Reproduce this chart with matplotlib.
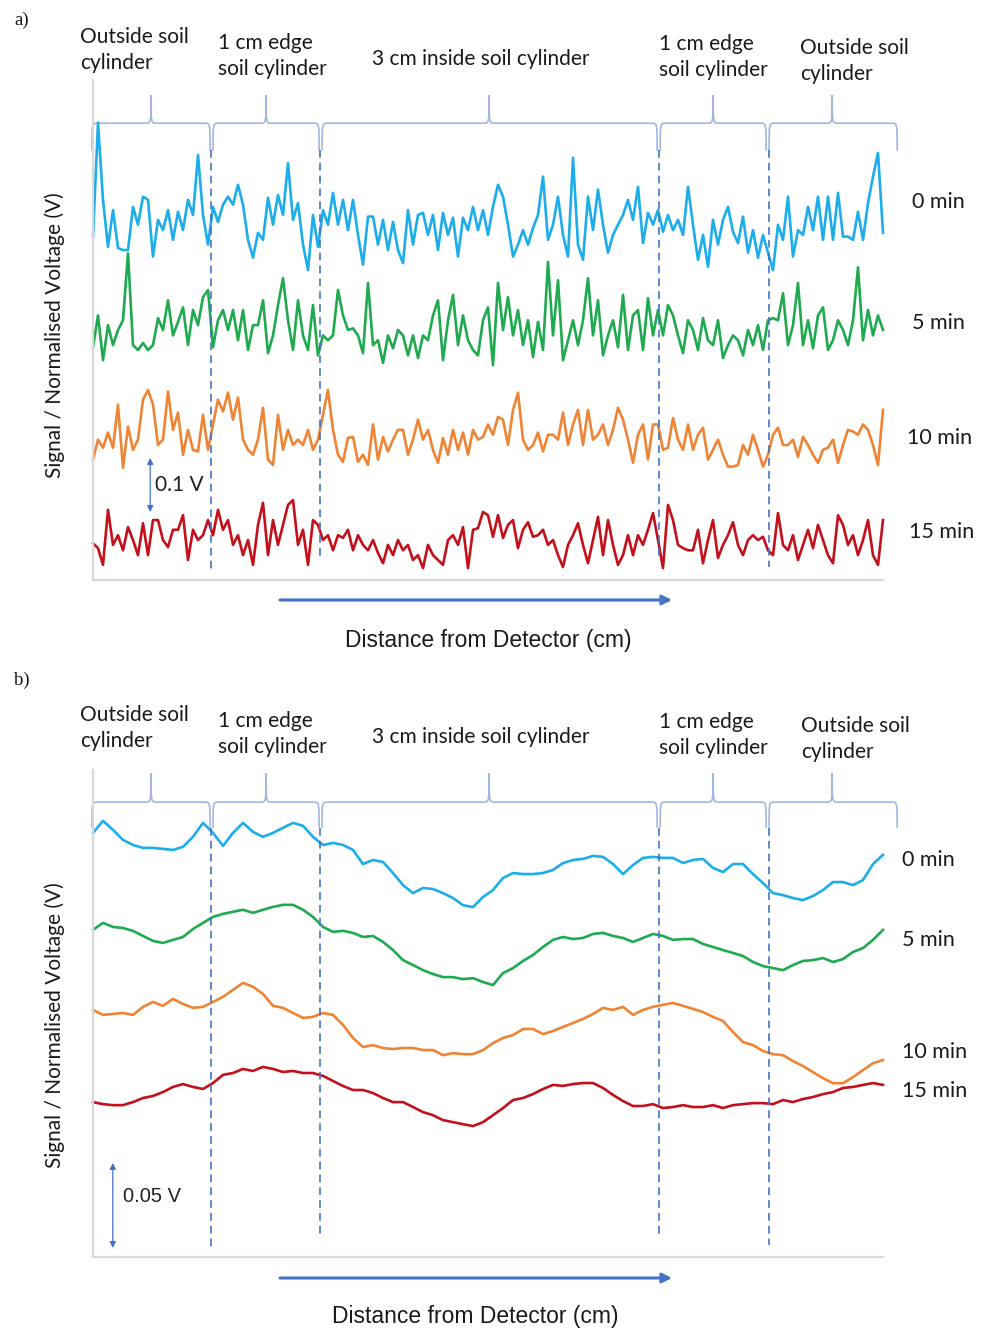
import numpy as np
import matplotlib
matplotlib.use("Agg")
import matplotlib.pyplot as plt
from matplotlib.path import Path
from matplotlib.patches import PathPatch, FancyArrowPatch

# Canvas (pixels)
W, H = 985, 1330

# Data: panel a (mV deviation of each trace, sampled evenly along the scan)
labels = ["0 min", "5 min", "10 min", "15 min"]
trace_colors = ["#1CADEA", "#1FAA4F", "#EE8434", "#C3101A"]
scan_length_cm = 7.18
divider_cm = [1.07, 2.06, 5.14, 6.14]
region_labels = ["Outside soil\ncylinder", "1 cm edge\nsoil cylinder",
                 "3 cm inside soil cylinder", "1 cm edge\nsoil cylinder",
                 "Outside soil\ncylinder"]
region_edges_cm = [(-0.01, 1.064), (1.091, 2.055), (2.082, 5.127),
                   (5.155, 6.118), (6.145, 7.309)]
region_centres_cm = [0.527, 1.573, 3.6, 5.636, 6.718]

a_0min = [-31, 180, 37, -50, 18, -52, -56, -56, 24, -9,
          43, 37, -68, 0, -19, 18, -37, 15, -19, 37,
          9, 120, 9, -46, 24, -4, 28, 43, 28, 65,
          28, -37, -70, -24, -37, 41, -9, 46, 9, 105,
          0, 31, -46, -93, 9, -50, 18, -9, 50, -9,
          37, -19, 37, -28, -83, 6, 6, -46, 0, -56,
          -4, -56, -80, 18, -46, 9, 13, -28, 9, -56,
          13, -28, 4, -68, 4, -19, 24, -19, 18, -28,
          24, 65, 43, -9, -68, -46, -19, -46, -15, 9,
          80, -37, -9, 43, -28, -68, 115, -46, -74, 43,
          -19, 56, -9, -61, -28, -9, 9, 37, 0, 61,
          -43, 13, -9, 18, -22, 9, -19, 0, -28, 61,
          -9, -74, -28, -87, 0, -46, 0, 24, -22, -43,
          6, -61, -19, -70, -28, -61, -93, -9, -37, 43,
          -68, -19, -28, 24, -19, 43, -37, 43, -37, 50,
          -31, -31, -37, 15, -37, 31, 80, 124, -24]
a_5min = [-41, 18, -65, 0, -37, -9, 9, 133, -37, -46,
          -33, -46, -37, 13, -9, 46, -19, 6, 33, -37,
          28, 0, 52, 65, -41, 9, 28, -9, 28, -28,
          28, -46, 0, 0, 46, -52, -19, 37, 87, 9,
          -46, 46, -19, -46, 37, -56, -19, -28, -19, 65,
          18, -9, -6, -19, -52, 78, -37, -28, -70, -19,
          -43, -9, -19, -56, -19, -61, -19, -28, 18, 46,
          -65, 9, 56, -37, 18, -28, -46, -56, 9, 33,
          -74, 78, -9, 52, -19, 28, -37, 9, -59, 6,
          -46, 117, -19, 83, -65, -28, 9, -37, 9, 87,
          -19, 46, -56, -19, 9, -41, 56, -46, 18, 28,
          -46, 50, -19, 28, -19, 37, 18, -19, -52, 9,
          -9, -46, 13, -28, -37, 9, -61, -37, -19, -28,
          -56, -9, -37, 0, -46, 9, 13, 9, 59, -37,
          0, 78, -37, 9, -43, 18, 33, -46, -28, 9,
          -9, -37, 9, 107, -28, 28, -19, 18, -9]
a_10min = [-46, -9, -24, 4, -24, 56, -61, 15, -28, -9,
           65, 83, 56, -19, -9, 80, 9, 41, -37, 9,
           -28, -31, 37, -28, 19, 65, 43, 78, 28, 69,
           -9, -28, -37, -9, 50, -46, -56, 37, -28, 9,
           -19, -9, -19, 9, -28, -9, 37, 83, 9, -37,
           -50, -6, -4, -50, -37, -56, 19, -46, -4, -31,
           -9, 9, 9, -37, -9, 28, -9, 9, -28, -52,
           -6, -37, 9, -28, 4, -37, 9, -9, -4, 19,
           0, 33, 28, -19, 46, 78, -9, -28, -19, 4,
           -31, 0, 0, -9, 41, -19, 19, 46, -19, 46,
           -9, 0, 19, -19, 9, 50, 28, -9, -52, 0,
           19, -46, 19, 19, -28, -24, 31, -9, -28, 19,
           -28, 0, 13, -46, -28, -9, -37, -59, -59, -56,
           -19, -37, 0, -28, -59, -37, 0, 13, -19, -19,
           -9, -41, -4, -19, -37, -52, -28, -24, -9, -52,
           -19, 9, 6, 0, 19, 9, -19, -56, 46]
a_15min = [-6, -15, -46, 56, -9, 9, -19, 24, 0, -28,
           31, -28, 37, 37, 0, -13, 19, 19, 46, -37,
           19, 0, 9, 37, 9, 56, 19, 37, -9, 9,
           -28, 0, -46, 28, 69, -28, 37, -9, 28, 65,
           74, -9, 19, -46, 37, 28, 0, 9, -19, 9,
           4, 19, -19, 9, -9, -19, 0, -24, -43, -9,
           -28, 0, -19, -9, -37, -28, -52, -9, -28, -37,
           -46, 0, 9, -9, 24, -52, 19, 22, 52, 46,
           6, 46, 4, 28, 37, -15, 19, 33, 6, 9,
           19, -9, 0, -28, -50, -9, 9, 31, -9, -43,
           0, 43, -28, 37, -9, -46, -28, 9, -28, 9,
           -9, 19, 50, 0, -52, 65, 37, -9, -15, -19,
           -19, 19, -43, 0, 37, -33, -9, 9, 33, -9,
           -28, 0, 9, 0, 6, -19, -28, 50, -9, -19,
           9, -37, -9, 19, -15, 28, 0, -28, -43, 46,
           28, -9, 9, -28, 0, 37, -28, -46, 37]

# Data: panel b (mV deviation)
b_0min = [15.9, 23.0, 17.7, 11.8, 8.8, 7.1, 7.1, 6.5, 5.9, 7.7,
          13.6, 21.8, 15.9, 8.3, 15.9, 21.8, 16.5, 13.6, 15.9, 18.9,
          21.8, 20.1, 13.6, 8.8, 10.0, 8.8, 5.9, -2.4, 0.0, -1.2,
          -7.7, -14.8, -19.5, -16.5, -17.1, -19.5, -22.4, -26.6, -27.7, -21.8,
          -17.7, -10.6, -7.7, -8.3, -8.3, -7.7, -5.9, -1.8, 0.0, 0.6,
          2.4, 1.8, -2.4, -8.3, -3.0, 1.2, 1.8, 1.2, 1.2, -1.8,
          0.0, 0.6, -4.7, -7.1, -2.4, -2.4, -8.3, -13.6, -19.5, -20.7,
          -22.4, -23.6, -21.2, -17.7, -13.0, -13.0, -14.8, -11.8, -2.4, 3.0]
b_5min = [8.9, 13.0, 10.6, 10.0, 8.3, 5.3, 2.4, 1.2, 3.0, 4.7,
          9.4, 13.0, 16.5, 18.3, 19.5, 20.7, 18.9, 20.7, 22.4, 23.6,
          23.6, 20.7, 16.5, 10.6, 7.7, 8.3, 7.1, 4.7, 5.3, 1.8,
          -3.0, -8.9, -11.8, -14.8, -17.1, -18.9, -18.9, -20.1, -19.5, -21.8,
          -23.6, -16.5, -13.6, -9.4, -5.9, -1.2, 3.0, 4.7, 3.5, 4.1,
          6.5, 7.1, 5.3, 4.1, 1.8, 4.1, 6.5, 5.3, 3.0, 3.5,
          3.5, 0.6, -1.2, -3.0, -4.7, -6.5, -10.0, -12.4, -13.6, -14.8,
          -11.8, -9.4, -8.9, -7.7, -10.0, -8.3, -4.1, -1.8, 3.0, 8.9]
b_10min = [11.8, 8.9, 9.4, 10.0, 8.9, 13.6, 16.5, 14.2, 18.3, 15.3,
           13.0, 13.6, 16.5, 19.5, 23.6, 27.7, 25.4, 21.2, 14.2, 13.0,
           10.0, 7.1, 7.7, 10.0, 8.9, 3.0, -4.7, -10.0, -8.9, -10.6,
           -11.2, -10.6, -10.6, -11.8, -11.8, -14.8, -13.6, -14.2, -14.2, -11.8,
           -7.7, -4.7, -3.0, 0.6, 0.6, -2.4, -0.6, 1.8, 4.1, 6.5,
           9.4, 13.0, 11.8, 13.6, 8.9, 11.8, 13.6, 14.8, 15.9, 14.2,
           12.4, 10.6, 7.7, 5.3, -1.2, -7.1, -8.9, -12.4, -14.2, -14.8,
           -18.3, -21.2, -24.8, -28.3, -31.3, -31.3, -27.7, -23.6, -19.5, -17.7]
b_15min = [-1.2, -2.4, -3.0, -3.0, -1.2, 1.2, 2.4, 4.7, 7.7, 9.4,
           7.7, 6.5, 10.0, 14.8, 15.9, 18.3, 17.1, 19.5, 18.3, 16.5,
           17.1, 15.9, 15.9, 14.2, 11.2, 8.3, 5.9, 5.9, 4.1, 1.2,
           -1.2, -1.2, -4.1, -7.1, -8.9, -11.8, -13.0, -14.2, -15.3, -13.0,
           -8.9, -4.7, 0.0, 1.2, 3.5, 6.5, 8.9, 8.3, 9.4, 10.0,
           10.0, 7.1, 3.0, -0.6, -3.5, -3.5, -2.4, -4.7, -4.1, -3.0,
           -4.1, -4.1, -3.0, -4.7, -3.0, -2.4, -1.8, -1.8, -2.4, 0.0,
           -1.2, 0.6, 1.8, 3.5, 4.7, 7.1, 7.7, 8.9, 10.0, 8.9]

panels = [
    dict(tag="a)", series=[a_0min, a_5min, a_10min, a_15min],
         offsets=[667, 472, 269, 74], ylim=926, scale_mv=100, scale_text="0.1 V",
         rect=(93, 580, 790, 500), brace=(846, 898, 796),
         dash_y=[(796, 18.5), (796, 42.6), (796, 40.7), (796, 24)],
         scale_x=0.52, scale_y0=126, text_xy=(0.565, 176),
         scale_font=("Lato", 15),
         label_pos=[(80, 50), (218, 56), (372, 59), (659, 57), (800, 61)],
         right_pos=[(912, 202), (912, 323), (907, 438), (909, 532)],
         ylab=(55, 335), xlab=(488, 640), arrow_y=600, tag_pos=(14, 20)),
    dict(tag="b)", series=[b_0min, b_5min, b_10min, b_15min],
         offsets=[233.5, 183.5, 133.5, 92.3], ylim=286.4, scale_mv=50, scale_text="0.05 V",
         rect=(93, 1257, 790, 487), brace=(267.5, 284.6, 252.8),
         dash_y=[(252.3, 4.1), (252.3, 11.8), (252.3, 11.8), (252.3, 7.1)],
         scale_x=0.18, scale_y0=5.3, text_xy=(0.27, 35.3),
         scale_font=("Liberation Sans", 14.5),
         label_pos=[(80, 728), (218, 734), (372, 737), (659, 735), (801, 739)],
         right_pos=[(902, 860), (902, 940), (902, 1052), (902, 1091)],
         ylab=(55, 1025), xlab=(475, 1316), arrow_y=1278, tag_pos=(14, 680)),
]

LABEL_FONT = ["Lato", "DejaVu Sans"]
AXIS_BLUE = "#4472C4"
BRACE_COLOR = "#A3B6DF"


def fxy(x, y):
    return x / W, 1 - y / H


def draw_brace(ax, x0, x1, xm, y_line, y_tip, y_hook, rx=0.05):
    verts = [(x0, y_hook), (x0, y_line), (x0, y_line), (x0 + rx, y_line),
             (xm - rx, y_line),
             (xm, y_line), (xm, y_line), (xm, y_tip),
             (xm, y_line), (xm, y_line), (xm + rx, y_line),
             (x1 - rx, y_line),
             (x1, y_line), (x1, y_line), (x1, y_hook)]
    codes = [Path.MOVETO, Path.CURVE4, Path.CURVE4, Path.CURVE4,
             Path.LINETO,
             Path.CURVE4, Path.CURVE4, Path.CURVE4,
             Path.CURVE4, Path.CURVE4, Path.CURVE4,
             Path.LINETO,
             Path.CURVE4, Path.CURVE4, Path.CURVE4]
    ax.add_patch(PathPatch(Path(verts, codes), fill=False, edgecolor=BRACE_COLOR,
                           lw=1.2, clip_on=False, capstyle="round"))


fig = plt.figure(figsize=(W / 100, H / 100), dpi=100)

for p in panels:
    left, bottom, width, height = p["rect"]
    ax = fig.add_axes([left / W, 1 - bottom / H, width / W, height / H])
    ax.set_xlim(0, scan_length_cm)
    ax.set_ylim(0, p["ylim"])
    for side in ["top", "right"]:
        ax.spines[side].set_visible(False)
    for side in ["left", "bottom"]:
        ax.spines[side].set_color("#D9D9D9")
        ax.spines[side].set_linewidth(1.6)
    ax.set_xticks([])
    ax.set_yticks([])

    for vals, off, col in zip(p["series"], p["offsets"], trace_colors):
        dist = np.linspace(0, scan_length_cm, len(vals))
        ax.plot(dist, np.array(vals) + off, color=col, lw=1.9,
                solid_joinstyle="round", clip_on=False)

    for xd, (y0, y1) in zip(divider_cm, p["dash_y"]):
        ax.plot([xd, xd], [y0, y1], color=AXIS_BLUE, lw=1.4, ls=(0, (4, 2.6)),
                clip_on=False, alpha=0.85)

    y_line, y_tip, y_hook = p["brace"]
    for (x0, x1), xm in zip(region_edges_cm, region_centres_cm):
        draw_brace(ax, x0, x1, xm, y_line, y_tip, y_hook)

    # scale bar
    ax.add_patch(FancyArrowPatch((p["scale_x"], p["scale_y0"]),
                                 (p["scale_x"], p["scale_y0"] + p["scale_mv"]),
                                 arrowstyle="<|-|>", mutation_scale=9,
                                 color=AXIS_BLUE, lw=0.9, shrinkA=0, shrinkB=0))
    fam, size = p["scale_font"]
    ax.text(p["text_xy"][0], p["text_xy"][1], p["scale_text"], ha="left", va="center",
            fontsize=size, family=[fam, "DejaVu Sans"], color="#222222")

    # region labels
    for txt, (x, y) in zip(region_labels, p["label_pos"]):
        fig.text(*fxy(x, y), txt, ha="left", va="center", fontsize=15,
                 family=LABEL_FONT, linespacing=1.42, color="#1a1a1a")
    for txt, (x, y) in zip(labels, p["right_pos"]):
        fig.text(*fxy(x, y), txt, ha="left", va="center", fontsize=15.5,
                 family=LABEL_FONT, color="#1a1a1a")

    fig.text(*fxy(*p["ylab"]), "Signal / Normalised Voltage (V)", rotation=90,
             ha="center", va="center", fontsize=15, family=LABEL_FONT, color="#1a1a1a")
    fig.text(*fxy(*p["xlab"]), "Distance from Detector (cm)", ha="center", va="center",
             fontsize=16.5, family=["Liberation Sans"], color="#1a1a1a")
    fig.patches.append(FancyArrowPatch(fxy(280, p["arrow_y"]), fxy(672, p["arrow_y"]),
                                       transform=fig.transFigure, arrowstyle="-|>",
                                       mutation_scale=14, color=AXIS_BLUE, lw=2.2,
                                       shrinkA=0, shrinkB=0))
    fig.text(*fxy(*p["tag_pos"]), p["tag"], ha="left", va="center", fontsize=13.5,
             family=["Liberation Serif"], color="#111111")

fig.savefig("out.png", dpi=100)
